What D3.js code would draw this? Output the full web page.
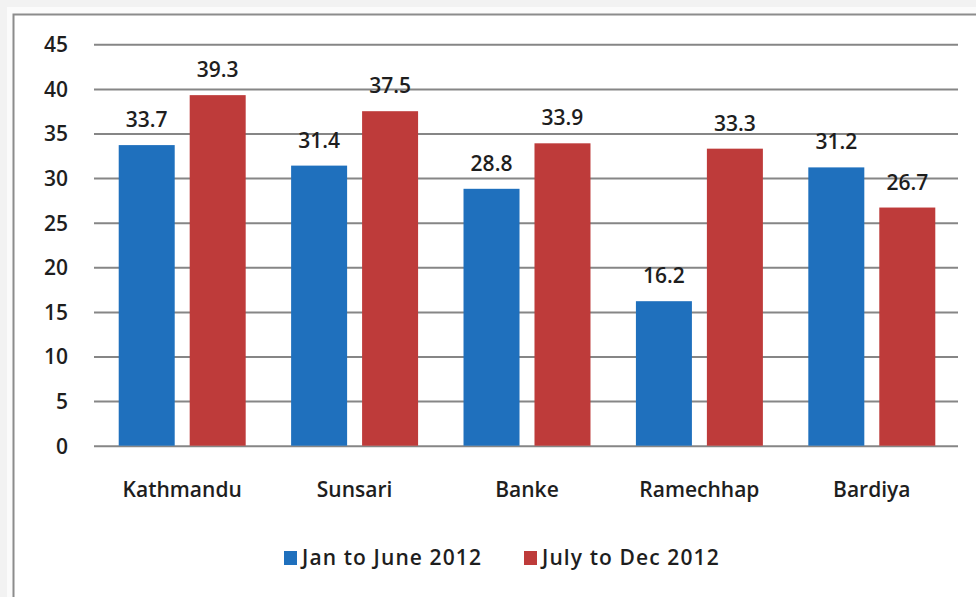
<!DOCTYPE html>
<html>
<head>
<meta charset="utf-8">
<script src="https://cdn.jsdelivr.net/npm/d3@7"></script>
<style>
  html, body { margin: 0; padding: 0; background: #f2f2f2; }
  svg { display: block; }
  text { font-family: "Open Sans", "DejaVu Sans", sans-serif; fill: #1e1e1e; }
</style>
</head>
<body>
<svg id="chart" width="976" height="597"></svg>
<script>
const categories = ["Kathmandu", "Sunsari", "Banke", "Ramechhap", "Bardiya"];
const seriesNames = ["Jan to June 2012", "July to Dec 2012"];
const janToJune = [33.7, 31.4, 28.8, 16.2, 31.2];
const julyToDec = [39.3, 37.5, 33.9, 33.3, 26.7];
const yTicks = [0, 5, 10, 15, 20, 25, 30, 35, 40, 45];
const colors = ["#1f70bd", "#be3b3a"];

const seriesValues = [janToJune, julyToDec];
const data = categories.map((c, i) => ({
  category: c,
  values: seriesNames.map((s, j) => ({ series: s, value: seriesValues[j][i], idx: j }))
}));

const svg = d3.select("#chart");

// outer background and frame
svg.append("rect").attr("x", 0).attr("y", 0).attr("width", 976).attr("height", 597).attr("fill", "#f2f2f2");
svg.append("rect").attr("x", 7).attr("y", 7).attr("width", 975).attr("height", 600).attr("fill", "#fbfbfb");
svg.append("rect").attr("x", 13.5).attr("y", 14.5).attr("width", 980).attr("height", 600)
  .attr("fill", "#ffffff").attr("stroke", "#8c8c8c").attr("stroke-width", 2);

const y = d3.scaleLinear().domain([0, 45]).range([445.7, 44.3]);
const x0 = d3.scaleBand().domain(categories).range([96, 958]).padding(0);
const x1 = d3.scaleBand().domain(seriesNames).range([0, x0.bandwidth()])
  .paddingInner(0.211).paddingOuter(0.32);

// gridlines via axis
const yAxis = d3.axisLeft(y).tickValues(yTicks).tickSize(-(958 - 94)).tickFormat(d3.format("d")).tickPadding(26);
const gy = svg.append("g").attr("transform", "translate(94,0)").call(yAxis);
gy.select(".domain").remove();
gy.selectAll(".tick line").attr("stroke", "#868686").attr("stroke-width", 2);
gy.selectAll(".tick text").attr("font-size", 21).attr("font-weight", 600)
  .attr("fill", "#1e1e1e").attr("text-anchor", "end").attr("dy", "0.35em")
  .attr("x", -26);

// bars
const groups = svg.append("g").selectAll("g").data(data).join("g")
  .attr("transform", d => `translate(${x0(d.category)},0)`);

groups.selectAll("rect").data(d => d.values).join("rect")
  .attr("x", d => x1(d.series))
  .attr("y", d => y(d.value))
  .attr("width", x1.bandwidth())
  .attr("height", d => y(0) - y(d.value))
  .attr("fill", d => colors[d.idx]);

groups.selectAll("text.val").data(d => d.values).join("text")
  .attr("class", "val")
  .attr("x", d => x1(d.series) + x1.bandwidth() / 2)
  .attr("y", d => y(d.value) - 18)
  .attr("text-anchor", "middle")
  .attr("font-size", 21).attr("font-weight", 600)
  .text(d => d.value.toFixed(1));

// category axis labels
const xAxis = d3.axisBottom(x0).tickSize(0).tickPadding(0);
const gx = svg.append("g").attr("transform", "translate(0,480)").call(xAxis);
gx.select(".domain").remove();
gx.selectAll(".tick text").attr("font-size", 21).attr("font-weight", 600)
  .attr("fill", "#1e1e1e").attr("dy", "0.35em").attr("y", 10);

// legend
const legendX = [284, 524];
const legend = svg.append("g").selectAll("g").data(seriesNames).join("g")
  .attr("transform", (d, i) => `translate(${legendX[i]},558)`);
legend.append("rect").attr("x", 0).attr("y", -7).attr("width", 13).attr("height", 14)
  .attr("fill", (d, i) => colors[i]);
legend.append("text").attr("x", 18).attr("y", 0).attr("dy", "0.35em")
  .attr("font-size", 21).attr("font-weight", 600).attr("letter-spacing", 1.1).text(d => d);
</script>
</body>
</html>
